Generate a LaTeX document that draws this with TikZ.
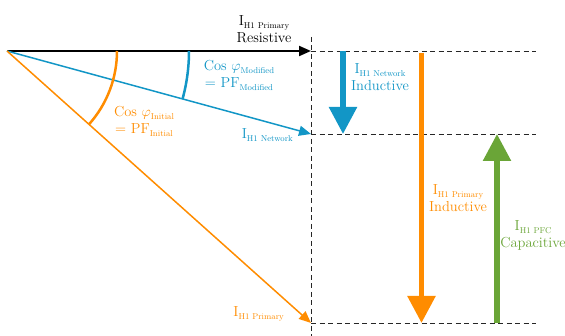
\documentclass[tikz,border=0pt]{standalone}
\usepackage{tikz}
\usetikzlibrary{arrows.meta, positioning}
\definecolor{netblue}{RGB}{18,150,198}
\definecolor{priorange}{RGB}{255,140,0}
\definecolor{pfcgreen}{RGB}{106,165,55}
\newcommand{\sub}[1]{\raisebox{-3pt}{\fontsize{8.5}{9}\selectfont #1}}

\begin{document}
\begin{tikzpicture}[x=1pt,y=-1pt,
  font=\fontsize{14.5}{17}\selectfont,
  thin arrow/.style={-{Triangle[length=12pt,width=10pt]}},
  fat arrow/.style={line width=5.5pt,-{Triangle[length=27pt,width=27pt]}},
  grid line/.style={black!85, line width=0.8pt, dash pattern=on 5pt off 3.5pt},
  lbl/.style={align=center, inner sep=0pt}]
 \useasboundingbox (0,0) rectangle (565,336);
 % phasor ends
 \coordinate (O) at (7,51);
 \coordinate (res) at (311,51);
 \coordinate (net) at (311,134);
 \coordinate (pri) at (311,323);
 \coordinate (top) at (311,37);
 \coordinate (bot) at (311,336);
 \coordinate (resE) at (536,51);
 \coordinate (netE) at (536,134);
 \coordinate (priE) at (536,323);
 % reactive parts
 \coordinate (nT) at (343,51);
 \coordinate (nB) at (343,134);
 \coordinate (pT) at (421.5,53);
 \coordinate (pB) at (421.5,323);
 \coordinate (gB) at (497,323);
 \coordinate (gT) at (497,134);

 \draw[grid line] (top) -- (bot);
 \draw[grid line] (res) -- (resE);
 \draw[grid line] (net) -- (netE);
 \draw[grid line] (pri) -- (priE);

 \draw[thin arrow, line width=2pt] (O) -- (res);
 \draw[thin arrow, netblue, line width=1.5pt] (O) -- (net);
 \draw[thin arrow, priorange, line width=1.5pt] (O) -- (pri);

 \draw[netblue, line width=2.5pt] (O) ++(182,0) arc[start angle=0, end angle=15.3, radius=182];
 \draw[priorange, line width=2.5pt] (O) ++(110,0) arc[start angle=0, end angle=41.8, radius=110];

 \draw[fat arrow, netblue] (nT) -- (nB);
 \draw[fat arrow, priorange] (pT) -- (pB);
 \draw[fat arrow, pfcgreen] (gB) -- (gT);

 % labels
 \node[lbl] (resL) at (264,29) {I\sub{H1 Primary}\\Resistive};
 \node[lbl, text=netblue] (modL) at (239,75) {Cos $\varphi$\sub{Modified}\\= PF\sub{Modified}};
 \node[lbl, text=priorange] (iniL) at (144,121) {Cos $\varphi$\sub{Initial}\\= PF\sub{Initial}};
 \node[lbl, text=netblue, anchor=east] (netL) at (293,135) {I\sub{H1 Network}};
 \node[lbl, text=priorange, anchor=east] (priL) at (284,314) {I\sub{H1 Primary}};
 \node[lbl, text=netblue] (nL) at (380,77) {I\sub{H1 Network}\\Inductive};
 \node[lbl, text=priorange] (pL) at (458,198) {I\sub{H1 Primary}\\Inductive};
 \node[lbl, text=pfcgreen] (gL) at (533,235) {I\sub{H1 PFC}\\Capacitive};
\end{tikzpicture}
\end{document}
